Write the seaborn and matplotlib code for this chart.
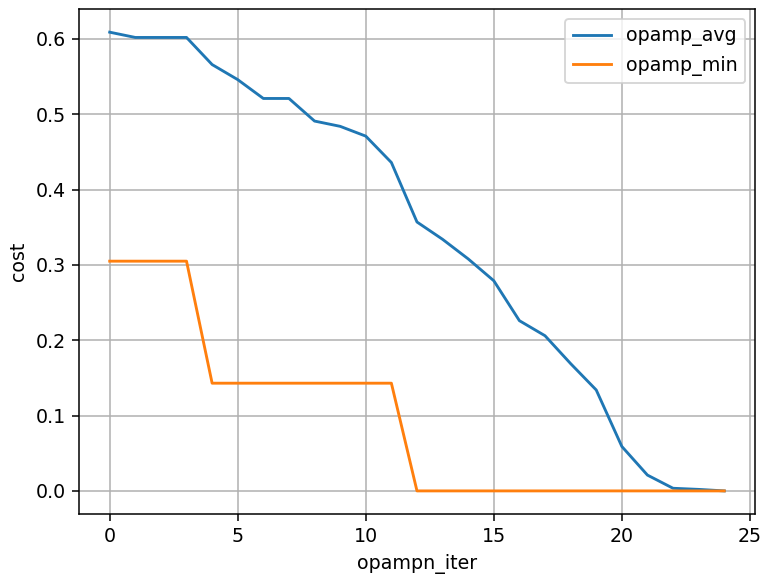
import numpy as np
import pandas as pd
import seaborn as sns
import matplotlib
matplotlib.use("Agg")
import matplotlib.pyplot as plt

iters = list(range(25))
opamp_avg = [0.609, 0.602, 0.602, 0.602, 0.566, 0.546, 0.521, 0.521, 0.491, 0.484,
             0.471, 0.436, 0.357, 0.334, 0.308, 0.279, 0.226, 0.206, 0.169, 0.134,
             0.059, 0.021, 0.0035, 0.002, 0.0]
opamp_min = [0.305, 0.305, 0.305, 0.305] + [0.143] * 8 + [0.0] * 13

df = pd.DataFrame({"opampn_iter": iters, "opamp_avg": opamp_avg, "opamp_min": opamp_min})

dpi = 137
fig, ax = plt.subplots(figsize=(763 / dpi, 578 / dpi), dpi=dpi)
fig.subplots_adjust(left=0.1035, right=0.9895, top=0.984, bottom=0.111)

sns.lineplot(data=df, x="opampn_iter", y="opamp_avg", ax=ax, label="opamp_avg", color="#1f77b4")
sns.lineplot(data=df, x="opampn_iter", y="opamp_min", ax=ax, label="opamp_min", color="#ff7f0e")

ax.set_xlabel("opampn_iter")
ax.set_ylabel("cost")
ax.grid(True)
ax.legend(loc="upper right")

fig.savefig("out.png", dpi=dpi)
